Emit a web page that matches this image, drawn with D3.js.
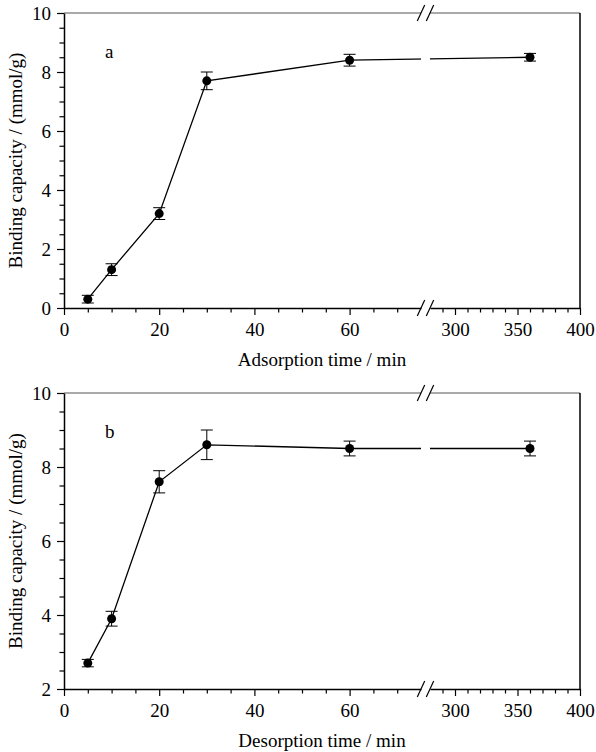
<!DOCTYPE html>
<html>
<head>
<meta charset="utf-8">
<script src="https://cdn.jsdelivr.net/npm/d3@7"></script>
<style>
  html, body { margin: 0; padding: 0; background: #fff; }
  svg { display: block; }
</style>
</head>
<body>
<svg id="chart" width="596" height="752"></svg>
<script>
// ---------------- data ----------------
const times = [5, 10, 20, 30, 60, 360];
const adsorption = [0.3, 1.3, 3.2, 7.7, 8.4, 8.5];
const adsorptionErr = [0.13, 0.2, 0.2, 0.3, 0.2, 0.13];
const desorption = [2.7, 3.9, 7.6, 8.6, 8.5, 8.5];
const desorptionErr = [0.1, 0.2, 0.3, 0.4, 0.2, 0.2];

const xMajorLow = [0, 20, 40, 60];
const xMinorLow = [5, 10, 15, 25, 30, 35, 45, 50, 55, 65, 70];
const xMajorHigh = [300, 350, 400];
const xMinorHigh = [290, 310, 320, 330, 340, 360, 370, 380, 390];
const xBreakDomainLow = [0, 75];
const xBreakDomainHigh = [280, 400];

const yMajorA = [0, 2, 4, 6, 8, 10];
const yMajorB = [2, 4, 6, 8, 10];

const panels = [
  { label: "a", title: "Adsorption time / min", values: adsorption, errs: adsorptionErr, yDomain: [0, 10], yMajor: yMajorA, top: 13, bottom: 308 },
  { label: "b", title: "Desorption time / min", values: desorption, errs: desorptionErr, yDomain: [2, 10], yMajor: yMajorB, top: 393, bottom: 689 }
];

// ---------------- layout ----------------
const svg = d3.select("#chart");
const left = 64, right = 580, breakL = 421, breakR = 430;
const FONT = "'Liberation Serif', 'Times New Roman', serif";

const xLow = d3.scaleLinear().domain(xBreakDomainLow).range([left, breakL]);
const xHigh = d3.scaleLinear().domain(xBreakDomainHigh).range([breakR, right]);
const xPos = v => (v <= xBreakDomainLow[1] ? xLow(v) : xHigh(v));

function styleAxis(g, sw) {
  g.selectAll("path.domain").attr("stroke", "#000").attr("stroke-width", sw);
  g.selectAll(".tick line").attr("stroke", "#000").attr("stroke-width", 1.2);
  g.selectAll(".tick text").attr("fill", "#000").attr("font-family", FONT).attr("font-size", 19);
}

panels.forEach(p => {
  const y = d3.scaleLinear().domain(p.yDomain).range([p.bottom, p.top]);
  const yMinor = d3.range(p.yDomain[0], p.yDomain[1] + 0.001, 0.5).filter(v => !p.yMajor.includes(v));
  const g = svg.append("g");

  // frame: top (with break gap) and right
  g.append("line").attr("x1", left).attr("x2", breakL).attr("y1", p.top).attr("y2", p.top)
    .attr("stroke", "#555").attr("stroke-width", 1);
  g.append("line").attr("x1", breakR).attr("x2", right).attr("y1", p.top).attr("y2", p.top)
    .attr("stroke", "#555").attr("stroke-width", 1);
  g.append("line").attr("x1", right).attr("x2", right).attr("y1", p.top).attr("y2", p.bottom)
    .attr("stroke", "#000").attr("stroke-width", 1.5);

  // y axis
  const yMinAx = g.append("g").attr("transform", `translate(${left},0)`)
    .call(d3.axisLeft(y).tickValues(yMinor).tickFormat("").tickSize(4.5).tickSizeOuter(0));
  yMinAx.select("path.domain").remove();
  styleAxis(yMinAx, 1.5);
  const yAx = g.append("g").attr("transform", `translate(${left},0)`)
    .call(d3.axisLeft(y).tickValues(p.yMajor).tickFormat(d3.format("d")).tickSize(7).tickSizeOuter(0).tickPadding(6));
  styleAxis(yAx, 1.5);
  yAx.selectAll(".tick text").attr("dy", "0.34em");

  // x axes (two segments)
  [[xLow, xMajorLow, xMinorLow], [xHigh, xMajorHigh, xMinorHigh]].forEach(([sc, maj, min]) => {
    const mAx = g.append("g").attr("transform", `translate(0,${p.bottom})`)
      .call(d3.axisBottom(sc).tickValues(min).tickFormat("").tickSize(4.5).tickSizeOuter(0));
    mAx.select("path.domain").remove();
    styleAxis(mAx, 1.5);
    const ax = g.append("g").attr("transform", `translate(0,${p.bottom})`)
      .call(d3.axisBottom(sc).tickValues(maj).tickFormat(d3.format("d")).tickSize(7).tickSizeOuter(0).tickPadding(8));
    styleAxis(ax, 1.5);
    ax.selectAll(".tick text").attr("dy", "0.71em");
  });

  // data line
  const pts = times.map((t, i) => [xPos(t), y(p.values[i])]);
  g.append("path").attr("d", d3.line()(pts)).attr("fill", "none").attr("stroke", "#000").attr("stroke-width", 1.3);
  // gap in data line at the break
  g.append("rect").attr("x", breakL).attr("y", p.top + 2).attr("width", breakR - breakL)
    .attr("height", p.bottom - p.top - 4).attr("fill", "#fff");

  // break marks (drawn after the gap)
  [p.top, p.bottom].forEach(yy => {
    [breakL, breakR].forEach(cx => {
      g.append("line").attr("x1", cx - 3.7).attr("y1", yy + 8).attr("x2", cx + 3.7).attr("y2", yy - 8)
        .attr("stroke", "#000").attr("stroke-width", 1.2);
    });
  });

  // error bars
  times.forEach((t, i) => {
    const cx = xPos(t), y1 = y(p.values[i] - p.errs[i]), y2 = y(p.values[i] + p.errs[i]);
    g.append("line").attr("x1", cx).attr("x2", cx).attr("y1", y1).attr("y2", y2).attr("stroke", "#000").attr("stroke-width", 1);
    [y1, y2].forEach(yy => g.append("line").attr("x1", cx - 6).attr("x2", cx + 6).attr("y1", yy).attr("y2", yy)
      .attr("stroke", "#000").attr("stroke-width", 1));
  });
  // markers
  g.selectAll("circle.m").data(times).enter().append("circle")
    .attr("cx", d => xPos(d)).attr("cy", (d, i) => y(p.values[i])).attr("r", 4.5).attr("fill", "#000");

  // texts
  g.append("text").attr("x", 105).attr("y", p.top + 45).attr("font-family", FONT).attr("font-size", 19).text(p.label);
  g.append("text").attr("x", (left + right) / 2).attr("y", p.bottom + 58).attr("text-anchor", "middle")
    .attr("font-family", FONT).attr("font-size", 19).text(p.title);
  g.append("text").attr("transform", `translate(22,${(p.top + p.bottom) / 2}) rotate(-90)`)
    .attr("text-anchor", "middle").attr("font-family", FONT).attr("font-size", 19).text("Binding capacity / (mmol/g)");
});
</script>
</body>
</html>
